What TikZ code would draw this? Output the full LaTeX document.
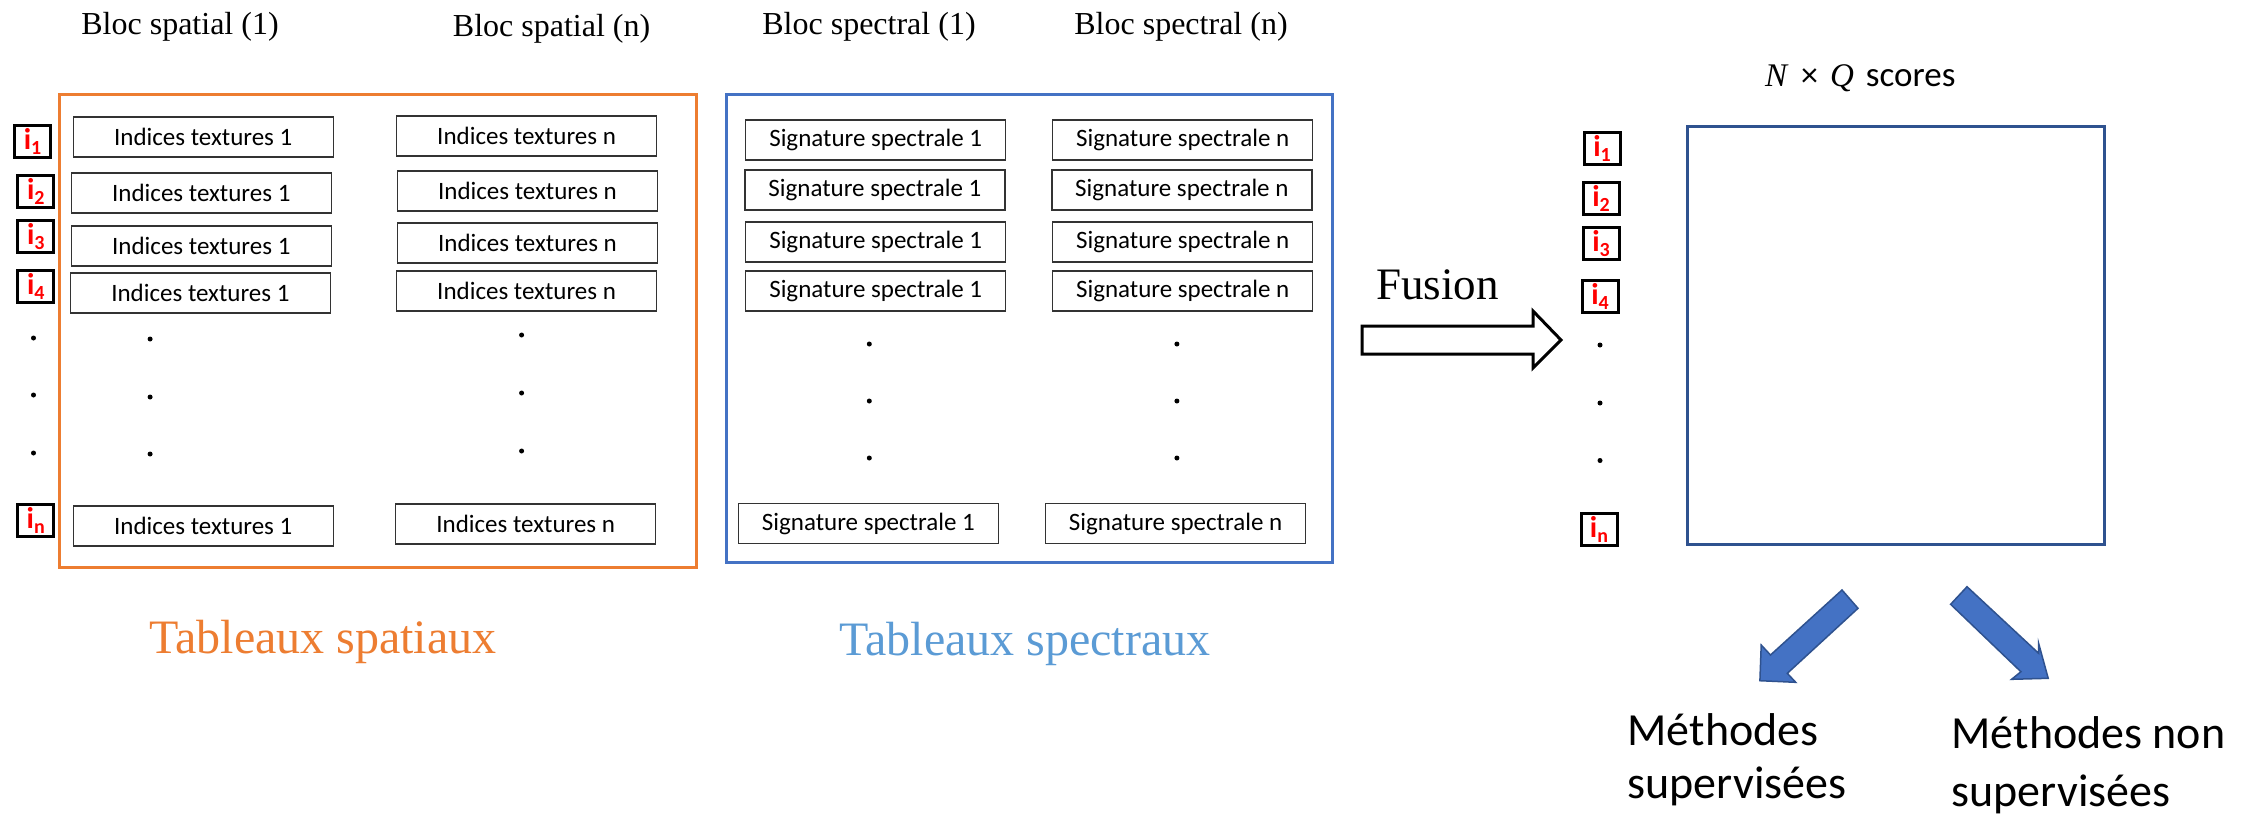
\documentclass[tikz,border=0pt]{standalone}
\usepackage{fontspec}
\setmainfont{Liberation Serif}
\newfontfamily\calib{Carlito}
\newfontfamily\serifit{Liberation Serif}[UprightFont=*-Italic]
\usetikzlibrary{positioning}
\definecolor{orangeF}{HTML}{ED7D31}
\definecolor{blueF}{HTML}{4472C4}
\definecolor{darkblueF}{HTML}{2F528F}
\definecolor{lightblueT}{HTML}{5B9BD5}
\newcommand{\ilab}[1]{i\raisebox{-5pt}{\fontsize{20}{20}\selectfont #1}}
\begin{document}
\begin{tikzpicture}[x=1pt,y=-1pt,
  cell/.style={draw=black!80, line width=1.4pt, minimum width=260pt, minimum height=40pt, inner sep=0pt, font=\calib\fontsize{25}{30}\selectfont},
  ibox/.style={draw=black, line width=3pt, minimum width=36pt, minimum height=32pt, inner sep=0pt, text=red, font=\calib\bfseries\fontsize{30}{30}\selectfont},
  dotc/.style={circle, fill=black, inner sep=0pt, minimum size=5pt},
  title/.style={anchor=base, inner sep=0pt, font=\fontsize{32}{38}\selectfont},
  bigt/.style={anchor=base, inner sep=0pt, font=\fontsize{48}{58}\selectfont},
  meth/.style={anchor=base west, inner sep=0pt, font=\calib\fontsize{46}{54}\selectfont},
  blockarrow/.style={fill=blueF, draw=darkblueF, line width=1.5pt, line join=miter}
]
\useasboundingbox (0,0) rectangle (2260,815);
\fill[white] (0,0) rectangle (2260,815);

% titles
\node[title] (bs1) at (180,34.3) {Bloc spatial (1)};
\node[title] (bsn) at (551.6,36.7) {Bloc spatial (n)};
\node[title] (bp1) at (869,34) {Bloc spectral (1)};
\node[title] (bpn) at (1181,34) {Bloc spectral (n)};

% frames
\node[draw=orangeF, line width=3pt, minimum width=636.8pt, minimum height=473.3pt, inner sep=0pt] (spatialframe) at (378.1,330.65) {};
\node[draw=blueF, line width=3pt, minimum width=606.2pt, minimum height=468.3pt, inner sep=0pt] (spectralframe) at (1029.3,328.15) {};
\node[draw=darkblueF, line width=3pt, minimum width=417pt, minimum height=418pt, inner sep=0pt] (scorebox) at (1895.5,335) {};

% left index boxes
\node[ibox] (li1) at (32.6,141.5) {\ilab{1}};
\node[ibox] (li2) at (35.8,191.5) {\ilab{2}};
\node[ibox] (li3) at (35.8,236.5) {\ilab{3}};
\node[ibox] (li4) at (35.8,286.5) {\ilab{4}};
\node[dotc] (ld1) at (33.5,338) {};
\node[dotc] (ld2) at (33.5,395) {};
\node[dotc] (ld3) at (33.5,453) {};
\node[ibox] (lin) at (35.8,520) {\ilab{n}};

% spatial cells
\node[cell] (sa1) at (203.2,137) {Indices textures 1};
\node[cell] (sa2) at (201.3,193) {Indices textures 1};
\node[cell] (sa3) at (201.3,246) {Indices textures 1};
\node[cell] (sa4) at (200.4,293) {Indices textures 1};
\node[cell] (san) at (203.2,526) {Indices textures 1};
\node[cell] (sb1) at (526.6,136) {Indices textures n};
\node[cell] (sb2) at (527.5,191) {Indices textures n};
\node[cell] (sb3) at (527.5,243) {Indices textures n};
\node[cell] (sb4) at (526.6,291) {Indices textures n};
\node[cell] (sbn) at (525.7,524) {Indices textures n};
\node[dotc] (sad1) at (150.1,339) {};
\node[dotc] (sad2) at (150.1,397) {};
\node[dotc] (sad3) at (150.1,454) {};
\node[dotc] (sbd1) at (521.6,335) {};
\node[dotc] (sbd2) at (521.6,393) {};
\node[dotc] (sbd3) at (521.6,451) {};

% spectral cells
\node[cell] (pa1) at (875.7,140) {Signature spectrale 1};
\node[cell] (pa2) at (874.9,190) {Signature spectrale 1};
\node[cell] (pa3) at (875.7,242) {Signature spectrale 1};
\node[cell] (pa4) at (875.7,291) {Signature spectrale 1};
\node[cell] (pan) at (868.4,523.5) {Signature spectrale 1};
\node[cell] (pb1) at (1182.7,140) {Signature spectrale n};
\node[cell] (pb2) at (1181.8,190) {Signature spectrale n};
\node[cell] (pb3) at (1182.7,242) {Signature spectrale n};
\node[cell] (pb4) at (1182.7,291) {Signature spectrale n};
\node[cell] (pbn) at (1175.6,523.5) {Signature spectrale n};
\node[dotc] (pad1) at (869.3,344) {};
\node[dotc] (pad2) at (869.3,401) {};
\node[dotc] (pad3) at (869.3,458) {};
\node[dotc] (pbd1) at (1176.9,344) {};
\node[dotc] (pbd2) at (1176.9,401) {};
\node[dotc] (pbd3) at (1176.9,458) {};

% bottom labels
\node[bigt, text=orangeF] (tspat) at (323,653.3) {Tableaux spatiaux};
\node[bigt, text=lightblueT] (tspec) at (1025,655) {Tableaux spectraux};

% fusion
\node[anchor=base, inner sep=0pt, font=\fontsize{45}{54}\selectfont] (fusion) at (1437.5,299) {Fusion};
\draw[line width=3pt, fill=white, line join=miter]
  (1362,326) -- (1533,326) -- (1533,311) -- (1561,340) -- (1533,368) -- (1533,354) -- (1362,354) -- cycle;

% right index boxes
\node[ibox] (ri1) at (1602,148.5) {\ilab{1}};
\node[ibox] (ri2) at (1601,198) {\ilab{2}};
\node[ibox] (ri3) at (1601,243.5) {\ilab{3}};
\node[ibox] (ri4) at (1600,296) {\ilab{4}};
\node[dotc] (rd1) at (1600,345) {};
\node[dotc] (rd2) at (1600,403) {};
\node[dotc] (rd3) at (1600,460.5) {};
\node[ibox] (rin) at (1599,529.5) {\ilab{n}};

% scores title
\node[anchor=base west, inner sep=0pt, font=\calib\fontsize{34}{40}\selectfont] (nq) at (1765,86)
  {{\serifit\fontsize{33}{40}\selectfont N}\hspace{14pt}×\hspace{12pt}{\serifit\fontsize{33}{40}\selectfont Q}\hspace{12pt}{\fontsize{35}{40}\selectfont scores}};

% block arrows
\draw[blockarrow] (1842,590) -- (1858,608.3) -- (1787.3,673.3) -- (1795.7,682.3) -- (1759.9,680.7) -- (1761.2,645) -- (1770.5,655) -- cycle;
\draw[blockarrow] (1967,586.7) -- (1950.6,604.3) -- (2020.9,671.7) -- (2011.6,679.3) -- (2048.2,678.3) -- (2038.6,643.3) -- (2038.6,653.3) -- cycle;

% methods
\node[meth] (m1a) at (1627.4,745) {Méthodes};
\node[meth] (m1b) at (1627.4,798) {supervisées};
\node[meth] (m2a) at (1951.4,748) {Méthodes non};
\node[meth] (m2b) at (1951.4,806) {supervisées};
\end{tikzpicture}
\end{document}
